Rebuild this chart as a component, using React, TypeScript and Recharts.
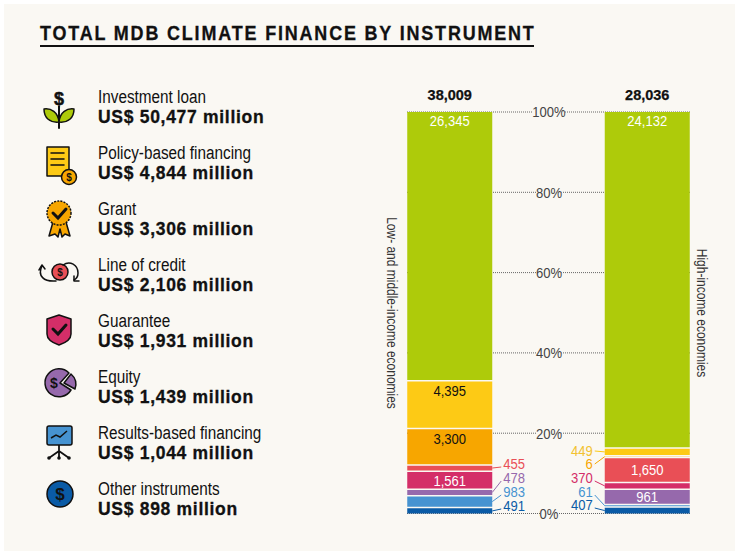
import type { ReactNode } from "react";
import {
	Bar,
	BarChart,
	CartesianGrid,
	LabelList,
	XAxis,
	YAxis,
} from "recharts";

const categories = [
	"Low- and middle-income economies",
	"High-income economies",
];
const totals = [38009, 28036];

// one value per category, low/middle income first
const otherInstruments = [491, 407];
const resultsBased = [983, 61];
const equity = [478, 961];
const guarantee = [1561, 370];
const lineOfCredit = [455, 1650];
const grant = [3300, 6];
const policyBased = [4395, 449];
const investmentLoan = [26345, 24132];

const percentTicks = [0, 20, 40, 60, 80, 100];

const legendNames = [
	"Investment loan",
	"Policy-based financing",
	"Grant",
	"Line of credit",
	"Guarantee",
	"Equity",
	"Results-based financing",
	"Other instruments",
];
const legendAmounts = [50477, 4844, 3306, 2106, 1931, 1439, 1044, 898];

const BG = "#faf8f3";
const INK = "#111111";
const SANS = '"Liberation Sans", Arial, sans-serif';

const GREEN = "#aecb0a";
const YELLOW = "#fdca15";
const ORANGE = "#f7a600";
const RED = "#e94f56";
const PINK = "#d42e68";
const PURPLE = "#9669ac";
const BLUE = "#4693d1";
const NAVY = "#0a5ba6";

// white gaps between segments, in axis percent. The source takes them out of the top segment
const GAP = 0.37;

type Placement = "top" | "center" | "callout";

// bottom to top
const stackOrder = [
	{ key: "other", values: otherInstruments, color: NAVY, text: "#fff", place: ["callout", "callout"] },
	{ key: "results", values: resultsBased, color: BLUE, text: "#fff", place: ["callout", "callout"] },
	{ key: "equity", values: equity, color: PURPLE, text: "#fff", place: ["callout", "center"] },
	{ key: "guarantee", values: guarantee, color: PINK, text: "#fff", place: ["center", "callout"] },
	{ key: "line", values: lineOfCredit, color: RED, text: "#fff", place: ["callout", "center"] },
	{ key: "grant", values: grant, color: ORANGE, text: INK, place: ["top", "callout"] },
	{ key: "policy", values: policyBased, color: YELLOW, text: INK, place: ["top", "callout"] },
	{ key: "investment", values: investmentLoan, color: GREEN, text: "#fff", place: ["top", "top"] },
] as { key: string; values: number[]; color: string; text: string; place: Placement[] }[];

// y of the pulled-out labels, [left bar, right bar]
const calloutY: Record<string, number[]> = {
	other: [506, 505],
	results: [492, 492],
	equity: [478, 0],
	guarantee: [0, 478],
	line: [464, 0],
	grant: [0, 464],
	policy: [0, 451],
};

const rows = categories.map((name, i) => {
	const row: Record<string, number | string> = { name, pos: i, total: totals[i] };
	stackOrder.forEach((s, j) => {
		const isTop = j === stackOrder.length - 1;
		const pct = (s.values[i] / totals[i]) * 100;
		row[s.key] = s.values[i];
		row[`${s.key}Pct`] = isTop ? pct - GAP * (stackOrder.length - 1) : pct;
		if (!isTop) row[`gap${j}`] = GAP;
	});
	return row;
});

const fmt = (v: number) => v.toLocaleString("en-US");

// the original face is a condensed grotesque, so squeeze the installed sans
function Condensed({
	x,
	y,
	anchor = "middle",
	fill,
	children,
}: {
	x: number;
	y: number;
	anchor?: "start" | "middle" | "end";
	fill: string;
	children: ReactNode;
}) {
	return (
		<text
			dominantBaseline="central"
			fill={fill}
			fontFamily={SANS}
			fontSize={15}
			textAnchor={anchor}
			transform={`translate(${x} ${y}) scale(0.87 1)`}
		>
			{children}
		</text>
	);
}

function segmentLabel(s: (typeof stackOrder)[number]) {
	return (props: any) => {
		const x = Number(props.x);
		const y = Number(props.y);
		const w = Number(props.width);
		const h = Number(props.height);
		const i = props.index as number;
		const place = s.place[i];
		if (place === "callout") {
			const labelY = calloutY[s.key][i];
			const barY = y + h / 2;
			const left = i === 0;
			const edge = left ? x + w : x;
			const end = left ? edge + 9 : edge - 10;
			return (
				<g>
					<line
						stroke={s.color}
						strokeWidth={1}
						x1={edge}
						x2={end}
						y1={barY}
						y2={labelY + (barY > labelY + 1 ? 3 : 0)}
					/>
					<Condensed
						anchor={left ? "start" : "end"}
						fill={s.color === YELLOW ? "#f2c230" : s.color}
						x={left ? edge + 11 : edge - 12}
						y={labelY}
					>
						{fmt(s.values[i])}
					</Condensed>
				</g>
			);
		}
		return (
			<Condensed
				fill={s.text}
				x={x + w / 2}
				y={place === "top" ? y + 9 : y + h / 2}
			>
				{fmt(s.values[i])}
			</Condensed>
		);
	};
}

function totalLabel(props: any) {
	return (
		<text
			dominantBaseline="central"
			fill={INK}
			fontFamily={SANS}
			fontSize={14.5}
			fontWeight={700}
			stroke={INK}
			strokeWidth={0.25}
			textAnchor="middle"
			x={Number(props.x) + Number(props.width) / 2}
			y={95}
		>
			{fmt(totals[props.index])}
		</text>
	);
}

function PercentTick(props: any) {
	const label = `${props.payload.value}%`;
	const w = label.length * 7.6 + 2;
	return (
		<g>
			<rect fill={BG} height={14} width={w} x={549 - w / 2} y={props.y - 7} />
			<Condensed fill="#444" x={549} y={props.y}>
				{label}
			</Condensed>
		</g>
	);
}

const S = { stroke: INK, strokeWidth: 1.5, strokeLinejoin: "round", strokeLinecap: "round" } as const;

function Dollar({ x, y, size = 12 }: { x: number; y: number; size?: number }) {
	return (
		<text
			dominantBaseline="central"
			fill={INK}
			fontFamily={SANS}
			fontSize={size}
			fontWeight={700}
			textAnchor="middle"
			x={x}
			y={y}
		>
			$
		</text>
	);
}

// drawn in a 50x50 box
const icons: ReactNode[] = [
	<g key="loan">
		<line {...S} strokeWidth={2} x1={25} x2={25} y1={12} y2={46} />
		<rect fill={BG} height={13} width={10} x={20} y={11} />
		<text dominantBaseline="central" fill={INK} fontFamily={SANS} fontSize={18} fontWeight={700} stroke={INK} strokeWidth={0.5} textAnchor="middle" x={25} y={17}>
			$
		</text>
		<path {...S} d="M25 40 C16 41 10 36 10 27 C17 26 24 30 25 40 Z" fill={GREEN} />
		<path {...S} d="M25 40 C34 41 40 36 40 27 C33 26 26 30 25 40 Z" fill={GREEN} />
	</g>,
	<g key="policy">
		<rect {...S} fill={YELLOW} height={29} width={22} x={13} y={9} />
		<line {...S} x1={17} x2={30} y1={15} y2={15} />
		<line {...S} x1={17} x2={30} y1={21} y2={21} />
		<line {...S} x1={17} x2={30} y1={27} y2={27} />
		<circle {...S} cx={35} cy={39} fill={ORANGE} r={7.5} />
		<Dollar size={10} x={35} y={39} />
	</g>,
	<g key="grant">
		<path {...S} d="M19 28 L15 42 L21 40 L24 43 L26 35 L28 43 L31 40 L36 42 L32 28 Z" fill={ORANGE} />
		<circle cx={25} cy={19} fill={ORANGE} r={12} stroke={INK} strokeDasharray="2 1.2" strokeWidth={1.5} />
		<path d="M19 19 L24 24 L32 15" fill="none" stroke={INK} strokeLinecap="round" strokeWidth={3} />
	</g>,
	<g key="line">
		<circle {...S} cx={26} cy={22} fill={RED} r={8} />
		<Dollar size={10} x={26} y={22} />
		<path {...S} d="M8 16 C3 26 10 32 22 31" fill="none" />
		<path {...S} d="M5 20 L8 15 L11 19" fill="none" />
		<path {...S} d="M29 15 C36 10 44 15 44 23 C44 26 42 29 40 30" fill="none" />
		<path {...S} d="M45 31 H40 V26" fill="none" />
	</g>,
	<g key="guarantee">
		<path {...S} d="M25 9 L37 13 V28 C37 33 31 37 25 39 C19 37 13 33 13 28 V13 Z" fill={PINK} />
		<path d="M19 23 L24 28 L32 19" fill="none" stroke={INK} strokeLinecap="round" strokeWidth={3} />
	</g>,
	<g key="equity">
		<path {...S} d="M35 11 A14 14 0 1 0 37 28 L26 21 Z" fill={PURPLE} />
		<path {...S} d="M30 21 L37 12 A14 14 0 0 1 41 27 Z" fill={PURPLE} />
		<Dollar size={14} x={20} y={21} />
	</g>,
	<g key="results">
		<rect {...S} fill={BLUE} height={19} rx={2} width={25} x={13} y={8} />
		<path d="M17 20 L22 17 L26 19 L33 13" fill="none" stroke={INK} strokeWidth={1.5} />
		<path d="M25 27 V40 M25 33 L15 40 M25 33 L35 40" fill="none" stroke={INK} strokeWidth={1.8} />
		<circle cx={15} cy={40} fill={INK} r={1.8} />
		<circle cx={25} cy={40} fill={INK} r={1.8} />
		<circle cx={35} cy={40} fill={INK} r={1.8} />
	</g>,
	<g key="other">
		<circle {...S} cx={26} cy={20} fill={NAVY} r={13} />
		<Dollar size={17} x={26} y={20} />
	</g>,
];

const text = (style: object) => ({ position: "absolute" as const, whiteSpace: "nowrap" as const, ...style });

const sideLabel = (left: number) =>
	text({
		left,
		top: 313,
		fontFamily: SANS,
		fontSize: 14,
		color: "#333",
		transform: "translate(-50%, -50%) rotate(90deg) scaleX(0.855)",
	});

export default function App() {
	return (
		<div style={{ position: "absolute", left: 0, top: 0, width: 739, height: 557, background: "#fff", overflow: "hidden" }}>
			<div style={{ position: "absolute", left: 4, top: 4, width: 731, height: 547, background: BG }} />
			<div
				style={text({
					left: 40,
					top: 21,
					fontFamily: SANS,
					fontSize: 19.5,
					fontWeight: 700,
					letterSpacing: 2,
					color: INK,
					lineHeight: "24px",
					WebkitTextStroke: "0.3px #111",
					transform: "scaleX(0.92)",
					transformOrigin: "left center",
				})}
			>
				TOTAL MDB CLIMATE FINANCE BY INSTRUMENT
			</div>
			<div style={{ position: "absolute", left: 40, top: 45, width: 494, height: 2, background: INK }} />

			{legendNames.map((name, i) => (
				<div key={name}>
					<svg
						height={50}
						style={{ position: "absolute", left: 34, top: 82 + i * 56 }}
						width={50}
					>
						{icons[i]}
					</svg>
					<div
						style={text({
							left: 98,
							top: 87 + i * 56,
							fontFamily: SANS,
							fontSize: 18,
							color: INK,
							lineHeight: "20px",
							transform: "scaleX(0.85)",
							transformOrigin: "left center",
						})}
					>
						{name}
					</div>
					<div
						style={text({
							left: 98,
							top: 106 + i * 56,
							fontFamily: SANS,
							fontSize: 17.5,
							fontWeight: 700,
							letterSpacing: 0.7,
							color: INK,
							lineHeight: "22px",
							WebkitTextStroke: "0.3px #111",
						})}
					>
						US$ {fmt(legendAmounts[i])} million
					</div>
				</div>
			))}

			<div style={{ position: "absolute", left: 0, top: 0 }}>
				<BarChart
					barSize={85}
					data={rows}
					height={557}
					margin={{ top: 112, right: 49, bottom: 43.5, left: 406 }}
					stackOffset="none"
					width={739}
				>
					<CartesianGrid
						horizontal
						stroke="#666"
						strokeDasharray="1 1"
						vertical={false}
					/>
					<XAxis dataKey="pos" domain={[-0.2177, 1.2152]} hide type="number" />
					<YAxis
						axisLine={false}
						domain={[0, 100]}
						interval={0}
						tick={PercentTick}
						tickLine={false}
						ticks={percentTicks}
						type="number"
						width={1}
					/>
					{stackOrder.flatMap((s, j) => {
						const bars = [
							<Bar
								dataKey={`${s.key}Pct`}
								fill={s.color}
								isAnimationActive={false}
								key={s.key}
								stackId="a"
							>
								<LabelList content={segmentLabel(s)} dataKey={s.key} />
								{s.key === "investment" && (
									<LabelList content={totalLabel} dataKey="total" />
								)}
							</Bar>,
						];
						if (j < stackOrder.length - 1) {
							bars.push(
								<Bar
									dataKey={`gap${j}`}
									fill="none"
									isAnimationActive={false}
									key={`gap${j}`}
									stackId="a"
								/>,
							);
						}
						return bars;
					})}
				</BarChart>
			</div>

			<div style={sideLabel(392)}>{categories[0]}</div>
			<div style={sideLabel(702)}>{categories[1]}</div>
		</div>
	);
}
